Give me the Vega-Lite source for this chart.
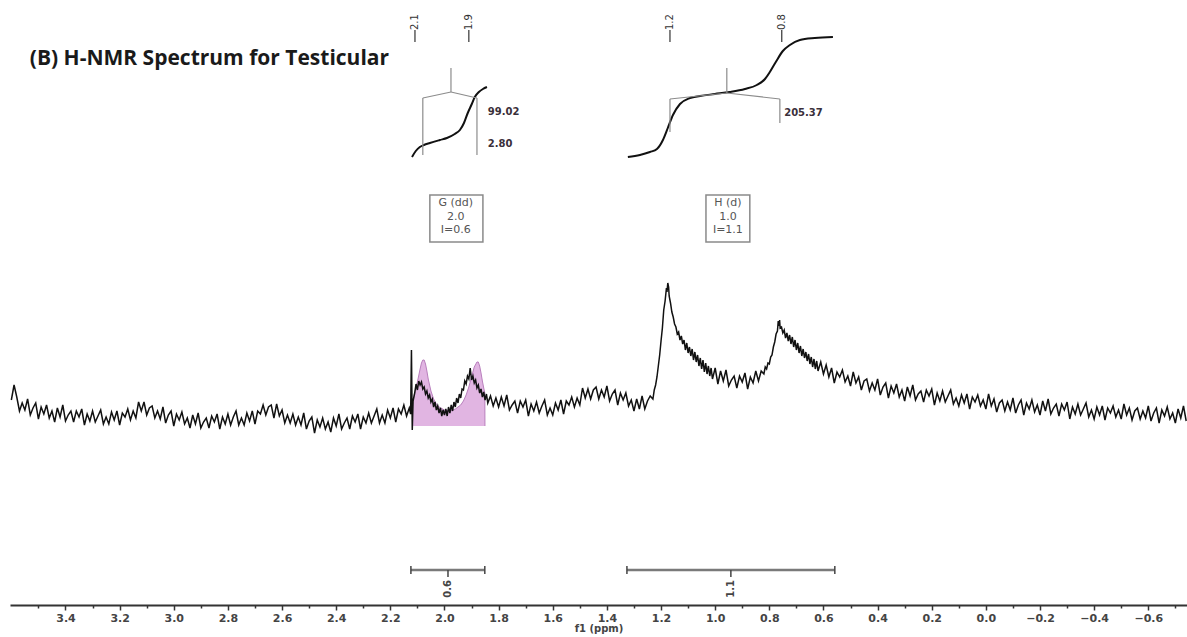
{
  "$schema": "https://vega.github.io/schema/vega-lite/v6.json",
  "width": 1177,
  "height": 605,
  "autosize": {"type": "none"},
  "padding": {"left": 10, "top": 0, "right": 0, "bottom": 32},
  "background": "white",
  "config": {"view": {"stroke": null}},
  "datasets": {
    "spec": [
      {"p":3.60,"i":2.6},{"p":3.59,"i":4.1},{"p":3.58,"i":2.9},{"p":3.57,"i":1.5},{"p":3.56,"i":2.3},{"p":3.55,"i":1.6},{"p":3.54,"i":2.7},{"p":3.53,"i":1.1},{"p":3.52,"i":1.8},{"p":3.51,"i":2.3},
      {"p":3.50,"i":0.7},{"p":3.49,"i":1.9},{"p":3.48,"i":1.2},{"p":3.47,"i":2.1},{"p":3.46,"i":0.8},{"p":3.45,"i":1.5},{"p":3.44,"i":0.4},{"p":3.43,"i":1.8},{"p":3.42,"i":0.9},{"p":3.41,"i":2.1},
      {"p":3.40,"i":0.5},{"p":3.39,"i":1.1},{"p":3.38,"i":1.5},{"p":3.37,"i":0.4},{"p":3.36,"i":1.5},{"p":3.35,"i":0.9},{"p":3.34,"i":1.7},{"p":3.33,"i":0.1},{"p":3.32,"i":1.2},{"p":3.31,"i":0.5},
      {"p":3.30,"i":1.5},{"p":3.29,"i":0.4},{"p":3.28,"i":1.0},{"p":3.27,"i":1.6},{"p":3.26,"i":0.2},{"p":3.25,"i":0.9},{"p":3.24,"i":0.2},{"p":3.23,"i":1.4},{"p":3.22,"i":0.6},{"p":3.21,"i":1.5},
      {"p":3.20,"i":0.1},{"p":3.19,"i":1.3},{"p":3.18,"i":0.9},{"p":3.17,"i":1.7},{"p":3.16,"i":0.6},{"p":3.15,"i":1.5},{"p":3.14,"i":0.8},{"p":3.13,"i":2.4},{"p":3.12,"i":1.5},{"p":3.11,"i":2.4},
      {"p":3.10,"i":1.1},{"p":3.09,"i":1.8},{"p":3.08,"i":2.0},{"p":3.07,"i":0.8},{"p":3.06,"i":1.5},{"p":3.05,"i":0.7},{"p":3.04,"i":1.9},{"p":3.03,"i":0.3},{"p":3.02,"i":1.1},{"p":3.01,"i":1.5},
      {"p":3.00,"i":0.0},{"p":2.99,"i":1.2},{"p":2.98,"i":0.6},{"p":2.97,"i":1.4},{"p":2.96,"i":0.2},{"p":2.95,"i":0.8},{"p":2.94,"i":-0.2},{"p":2.93,"i":1.1},{"p":2.92,"i":0.2},{"p":2.91,"i":1.3},
      {"p":2.90,"i":-0.2},{"p":2.89,"i":0.4},{"p":2.88,"i":0.8},{"p":2.87,"i":-0.2},{"p":2.86,"i":1.0},{"p":2.85,"i":0.4},{"p":2.84,"i":1.2},{"p":2.83,"i":-0.3},{"p":2.82,"i":0.9},{"p":2.81,"i":0.2},
      {"p":2.80,"i":1.2},{"p":2.79,"i":0.1},{"p":2.78,"i":0.9},{"p":2.77,"i":1.5},{"p":2.76,"i":0.1},{"p":2.75,"i":0.8},{"p":2.74,"i":0.1},{"p":2.73,"i":1.3},{"p":2.72,"i":0.5},{"p":2.71,"i":1.5},
      {"p":2.70,"i":0.2},{"p":2.69,"i":1.5},{"p":2.68,"i":1.2},{"p":2.67,"i":2.1},{"p":2.66,"i":1.1},{"p":2.65,"i":1.9},{"p":2.64,"i":2.1},{"p":2.63,"i":0.8},{"p":2.62,"i":2.2},{"p":2.61,"i":1.0},
      {"p":2.60,"i":1.6},{"p":2.59,"i":0.3},{"p":2.58,"i":1.1},{"p":2.57,"i":0.3},{"p":2.56,"i":1.2},{"p":2.55,"i":0.1},{"p":2.54,"i":0.9},{"p":2.53,"i":0.1},{"p":2.52,"i":1.3},{"p":2.51,"i":-0.3},
      {"p":2.50,"i":0.5},{"p":2.49,"i":0.9},{"p":2.48,"i":-0.7},{"p":2.47,"i":0.6},{"p":2.46,"i":-0.1},{"p":2.45,"i":0.8},{"p":2.44,"i":-0.3},{"p":2.43,"i":0.4},{"p":2.42,"i":-0.6},{"p":2.41,"i":0.8},
      {"p":2.40,"i":0.0},{"p":2.39,"i":1.2},{"p":2.38,"i":-0.3},{"p":2.37,"i":0.3},{"p":2.36,"i":0.8},{"p":2.35,"i":-0.3},{"p":2.34,"i":1.0},{"p":2.33,"i":0.4},{"p":2.32,"i":1.2},{"p":2.31,"i":-0.3},
      {"p":2.30,"i":0.9},{"p":2.29,"i":0.3},{"p":2.28,"i":1.3},{"p":2.27,"i":0.3},{"p":2.26,"i":1.0},{"p":2.25,"i":1.7},{"p":2.24,"i":0.3},{"p":2.23,"i":1.1},{"p":2.22,"i":0.3},{"p":2.21,"i":1.6},
      {"p":2.20,"i":0.8},{"p":2.19,"i":1.8},{"p":2.18,"i":0.4},{"p":2.17,"i":1.7},{"p":2.16,"i":1.2},{"p":2.15,"i":2.1},{"p":2.14,"i":1.0},{"p":2.13,"i":1.8},{"p":2.125,"i":1.2},{"p":2.122,"i":7.6},
      {"p":2.119,"i":-0.4},{"p":2.116,"i":2.5},{"p":2.11,"i":3.3},{"p":2.105,"i":4.2},{"p":2.10,"i":3.6},{"p":2.095,"i":4.5},{"p":2.09,"i":4.1},{"p":2.085,"i":4.4},{"p":2.08,"i":3.7},{"p":2.075,"i":3.9},
      {"p":2.07,"i":3.2},{"p":2.065,"i":3.5},{"p":2.06,"i":2.8},{"p":2.055,"i":3.1},{"p":2.05,"i":2.4},{"p":2.045,"i":2.7},{"p":2.04,"i":1.9},{"p":2.035,"i":2.4},{"p":2.03,"i":1.6},{"p":2.025,"i":2.0},
      {"p":2.02,"i":1.3},{"p":2.015,"i":1.8},{"p":2.01,"i":1.0},{"p":2.005,"i":1.6},{"p":2.00,"i":1.1},{"p":1.995,"i":1.7},{"p":1.99,"i":1.0},{"p":1.985,"i":1.9},{"p":1.98,"i":1.3},{"p":1.975,"i":2.1},
      {"p":1.97,"i":1.5},{"p":1.965,"i":2.4},{"p":1.96,"i":1.9},{"p":1.955,"i":2.8},{"p":1.95,"i":2.3},{"p":1.945,"i":3.2},{"p":1.94,"i":2.8},{"p":1.935,"i":3.7},{"p":1.93,"i":3.6},{"p":1.925,"i":4.5},
      {"p":1.92,"i":4.2},{"p":1.915,"i":5.0},{"p":1.91,"i":4.7},{"p":1.905,"i":5.8},{"p":1.90,"i":4.6},{"p":1.895,"i":5.0},{"p":1.89,"i":4.3},{"p":1.885,"i":4.6},{"p":1.88,"i":3.8},{"p":1.875,"i":4.1},
      {"p":1.87,"i":3.3},{"p":1.865,"i":3.7},{"p":1.86,"i":2.9},{"p":1.855,"i":3.4},{"p":1.85,"i":2.6},{"p":1.845,"i":3.2},{"p":1.84,"i":2.3},{"p":1.83,"i":3.0},{"p":1.82,"i":2.0},{"p":1.81,"i":2.8},
      {"p":1.80,"i":1.9},{"p":1.79,"i":2.9},{"p":1.78,"i":2.0},{"p":1.77,"i":3.1},{"p":1.76,"i":1.6},{"p":1.75,"i":2.1},{"p":1.74,"i":2.5},{"p":1.73,"i":1.3},{"p":1.72,"i":2.5},{"p":1.71,"i":1.9},
      {"p":1.70,"i":2.6},{"p":1.69,"i":1.0},{"p":1.68,"i":2.2},{"p":1.67,"i":1.5},{"p":1.66,"i":2.4},{"p":1.65,"i":1.3},{"p":1.64,"i":2.0},{"p":1.63,"i":2.6},{"p":1.62,"i":1.1},{"p":1.61,"i":1.8},
      {"p":1.60,"i":1.1},{"p":1.59,"i":2.3},{"p":1.58,"i":1.6},{"p":1.57,"i":2.6},{"p":1.56,"i":1.2},{"p":1.55,"i":2.5},{"p":1.54,"i":2.1},{"p":1.53,"i":2.9},{"p":1.52,"i":1.9},{"p":1.51,"i":2.8},
      {"p":1.50,"i":2.1},{"p":1.49,"i":3.8},{"p":1.48,"i":2.8},{"p":1.47,"i":3.7},{"p":1.46,"i":2.7},{"p":1.45,"i":3.6},{"p":1.44,"i":3.9},{"p":1.43,"i":2.7},{"p":1.42,"i":3.6},{"p":1.41,"i":2.9},
      {"p":1.40,"i":4.0},{"p":1.39,"i":2.5},{"p":1.38,"i":3.2},{"p":1.37,"i":3.6},{"p":1.36,"i":2.1},{"p":1.35,"i":3.3},{"p":1.34,"i":2.6},{"p":1.33,"i":3.3},{"p":1.32,"i":2.0},{"p":1.31,"i":2.6},
      {"p":1.30,"i":1.5},{"p":1.29,"i":2.7},{"p":1.28,"i":1.7},{"p":1.27,"i":3.0},{"p":1.26,"i":1.7},{"p":1.25,"i":2.5},{"p":1.24,"i":3.0},{"p":1.23,"i":2.7},{"p":1.225,"i":3.6},{"p":1.22,"i":4.1},
      {"p":1.215,"i":4.9},{"p":1.21,"i":6.0},{"p":1.205,"i":7.1},{"p":1.20,"i":8.5},{"p":1.195,"i":9.8},{"p":1.19,"i":11.6},{"p":1.185,"i":12.5},{"p":1.18,"i":13.8},{"p":1.178,"i":13.4},{"p":1.175,"i":14.3},
      {"p":1.172,"i":13.9},{"p":1.17,"i":13.0},{"p":1.165,"i":12.3},{"p":1.16,"i":11.4},{"p":1.155,"i":10.9},{"p":1.15,"i":10.2},{"p":1.145,"i":9.9},{"p":1.14,"i":9.2},{"p":1.135,"i":9.4},{"p":1.13,"i":8.6},
      {"p":1.125,"i":9.0},{"p":1.12,"i":8.2},{"p":1.115,"i":8.6},{"p":1.11,"i":7.6},{"p":1.105,"i":8.3},{"p":1.10,"i":7.3},{"p":1.095,"i":7.9},{"p":1.09,"i":7.0},{"p":1.085,"i":7.7},{"p":1.08,"i":6.6},
      {"p":1.075,"i":7.4},{"p":1.07,"i":6.4},{"p":1.065,"i":7.1},{"p":1.06,"i":6.0},{"p":1.055,"i":6.8},{"p":1.05,"i":5.7},{"p":1.045,"i":6.6},{"p":1.04,"i":5.4},{"p":1.035,"i":6.3},{"p":1.03,"i":5.2},
      {"p":1.025,"i":6.0},{"p":1.02,"i":5.0},{"p":1.015,"i":5.8},{"p":1.01,"i":4.7},{"p":1.00,"i":5.8},{"p":0.99,"i":4.2},{"p":0.98,"i":5.5},{"p":0.97,"i":4.5},{"p":0.96,"i":5.6},{"p":0.95,"i":4.0},
      {"p":0.94,"i":4.6},{"p":0.93,"i":5.0},{"p":0.92,"i":3.8},{"p":0.91,"i":5.0},{"p":0.90,"i":4.4},{"p":0.89,"i":5.3},{"p":0.88,"i":3.7},{"p":0.87,"i":4.9},{"p":0.86,"i":4.3},{"p":0.85,"i":5.5},
      {"p":0.84,"i":4.5},{"p":0.83,"i":5.5},{"p":0.82,"i":5.2},{"p":0.815,"i":5.9},{"p":0.81,"i":5.7},{"p":0.805,"i":6.3},{"p":0.80,"i":6.2},{"p":0.795,"i":6.9},{"p":0.79,"i":7.1},{"p":0.785,"i":7.9},
      {"p":0.78,"i":8.4},{"p":0.775,"i":9.2},{"p":0.77,"i":9.5},{"p":0.767,"i":10.5},{"p":0.765,"i":10.0},{"p":0.762,"i":10.6},{"p":0.76,"i":9.8},{"p":0.755,"i":9.9},{"p":0.75,"i":9.3},{"p":0.745,"i":9.6},
      {"p":0.74,"i":8.8},{"p":0.735,"i":9.3},{"p":0.73,"i":8.5},{"p":0.725,"i":9.1},{"p":0.72,"i":8.2},{"p":0.715,"i":8.9},{"p":0.71,"i":7.9},{"p":0.705,"i":8.6},{"p":0.70,"i":7.6},{"p":0.695,"i":8.3},
      {"p":0.69,"i":7.3},{"p":0.685,"i":8.0},{"p":0.68,"i":7.0},{"p":0.675,"i":7.7},{"p":0.67,"i":6.8},{"p":0.665,"i":7.4},{"p":0.66,"i":6.5},{"p":0.655,"i":7.2},{"p":0.65,"i":6.2},{"p":0.645,"i":6.9},
      {"p":0.64,"i":5.9},{"p":0.635,"i":6.7},{"p":0.63,"i":5.7},{"p":0.625,"i":6.5},{"p":0.62,"i":5.5},{"p":0.61,"i":6.4},{"p":0.60,"i":5.2},{"p":0.59,"i":6.1},{"p":0.58,"i":4.9},{"p":0.57,"i":5.8},
      {"p":0.56,"i":4.3},{"p":0.55,"i":5.4},{"p":0.54,"i":4.9},{"p":0.53,"i":5.6},{"p":0.52,"i":4.4},{"p":0.51,"i":5.0},{"p":0.50,"i":4.0},{"p":0.49,"i":5.4},{"p":0.48,"i":4.3},{"p":0.47,"i":4.9},
      {"p":0.46,"i":3.6},{"p":0.45,"i":4.5},{"p":0.44,"i":4.7},{"p":0.43,"i":3.5},{"p":0.42,"i":4.3},{"p":0.41,"i":3.6},{"p":0.40,"i":4.7},{"p":0.39,"i":3.1},{"p":0.38,"i":3.9},{"p":0.37,"i":4.3},
      {"p":0.36,"i":2.8},{"p":0.35,"i":4.0},{"p":0.34,"i":3.3},{"p":0.33,"i":4.2},{"p":0.32,"i":2.9},{"p":0.31,"i":3.6},{"p":0.30,"i":2.5},{"p":0.29,"i":3.9},{"p":0.28,"i":3.0},{"p":0.27,"i":4.1},
      {"p":0.26,"i":2.6},{"p":0.25,"i":3.2},{"p":0.24,"i":3.5},{"p":0.23,"i":2.4},{"p":0.22,"i":3.6},{"p":0.21,"i":3.0},{"p":0.20,"i":3.7},{"p":0.19,"i":2.1},{"p":0.18,"i":3.3},{"p":0.17,"i":2.5},
      {"p":0.16,"i":3.5},{"p":0.15,"i":2.4},{"p":0.14,"i":3.0},{"p":0.13,"i":3.6},{"p":0.12,"i":2.2},{"p":0.11,"i":2.8},{"p":0.10,"i":2.0},{"p":0.09,"i":3.1},{"p":0.08,"i":2.3},{"p":0.07,"i":3.2},
      {"p":0.06,"i":1.7},{"p":0.05,"i":2.9},{"p":0.04,"i":2.4},{"p":0.03,"i":3.1},{"p":0.02,"i":2.0},{"p":0.01,"i":2.6},{"p":0.00,"i":1.7},{"p":-0.01,"i":3.2},{"p":-0.02,"i":2.0},{"p":-0.03,"i":2.7},
      {"p":-0.04,"i":1.4},{"p":-0.05,"i":2.3},{"p":-0.06,"i":2.6},{"p":-0.07,"i":1.5},{"p":-0.08,"i":2.4},{"p":-0.09,"i":1.6},{"p":-0.10,"i":2.8},{"p":-0.11,"i":1.3},{"p":-0.12,"i":2.1},{"p":-0.13,"i":2.6},
      {"p":-0.14,"i":1.1},{"p":-0.15,"i":2.3},{"p":-0.16,"i":1.7},{"p":-0.17,"i":2.6},{"p":-0.18,"i":1.4},{"p":-0.19,"i":2.1},{"p":-0.20,"i":1.1},{"p":-0.21,"i":2.5},{"p":-0.22,"i":1.5},{"p":-0.23,"i":2.7},
      {"p":-0.24,"i":1.2},{"p":-0.25,"i":1.8},{"p":-0.26,"i":2.2},{"p":-0.27,"i":1.0},{"p":-0.28,"i":2.2},{"p":-0.29,"i":1.6},{"p":-0.30,"i":2.4},{"p":-0.31,"i":0.7},{"p":-0.32,"i":1.9},{"p":-0.33,"i":1.2},
      {"p":-0.34,"i":2.2},{"p":-0.35,"i":1.1},{"p":-0.36,"i":1.7},{"p":-0.37,"i":2.3},{"p":-0.38,"i":0.9},{"p":-0.39,"i":1.6},{"p":-0.40,"i":0.7},{"p":-0.41,"i":1.9},{"p":-0.42,"i":1.1},{"p":-0.43,"i":2.0},
      {"p":-0.44,"i":0.6},{"p":-0.45,"i":1.8},{"p":-0.46,"i":1.3},{"p":-0.47,"i":2.0},{"p":-0.48,"i":0.9},{"p":-0.49,"i":1.6},{"p":-0.50,"i":0.7},{"p":-0.51,"i":2.2},{"p":-0.52,"i":1.1},{"p":-0.53,"i":1.8},
      {"p":-0.54,"i":0.6},{"p":-0.55,"i":1.5},{"p":-0.56,"i":1.8},{"p":-0.57,"i":0.7},{"p":-0.58,"i":1.5},{"p":-0.59,"i":0.8},{"p":-0.60,"i":2.0},{"p":-0.61,"i":0.5},{"p":-0.62,"i":1.3},{"p":-0.63,"i":1.8},
      {"p":-0.64,"i":0.3},{"p":-0.65,"i":1.6},{"p":-0.66,"i":1.0},{"p":-0.67,"i":1.9},{"p":-0.68,"i":0.7},{"p":-0.69,"i":1.3},{"p":-0.70,"i":0.3},{"p":-0.71,"i":1.7},{"p":-0.72,"i":0.8},{"p":-0.73,"i":2.0},
      {"p":-0.74,"i":0.5}
    ],
    "pink": [
      {"p":2.117,"i":2.5},{"p":2.11,"i":3.3},{"p":2.10,"i":4.4},{"p":2.09,"i":5.7},{"p":2.085,"i":6.3},{"p":2.08,"i":6.6},{"p":2.075,"i":6.6},{"p":2.07,"i":6.2},{"p":2.065,"i":5.5},{"p":2.06,"i":4.7},
      {"p":2.05,"i":3.5},{"p":2.04,"i":2.7},{"p":2.03,"i":2.2},{"p":2.02,"i":1.9},{"p":2.00,"i":1.6},{"p":1.98,"i":1.5},{"p":1.96,"i":1.7},{"p":1.94,"i":2.1},{"p":1.93,"i":2.5},{"p":1.92,"i":3.1},
      {"p":1.91,"i":3.9},{"p":1.90,"i":4.9},{"p":1.89,"i":5.9},{"p":1.88,"i":6.4},{"p":1.875,"i":6.4},{"p":1.87,"i":6.0},{"p":1.865,"i":5.3},{"p":1.86,"i":4.5},{"p":1.855,"i":3.8},{"p":1.851,"i":3.3},
      {"p":1.8505,"i":0.0}
    ],
    "integ": [
      {"g":"G","p":2.120,"i":26.9},{"g":"G","p":2.106,"i":27.5},{"g":"G","p":2.091,"i":27.9},{"g":"G","p":2.076,"i":28.1},{"g":"G","p":2.054,"i":28.3},{"g":"G","p":2.017,"i":28.6},{"g":"G","p":1.991,"i":28.8},{"g":"G","p":1.962,"i":29.2},{"g":"G","p":1.943,"i":29.6},{"g":"G","p":1.928,"i":30.3},{"g":"G","p":1.914,"i":31.3},{"g":"G","p":1.899,"i":32.2},{"g":"G","p":1.888,"i":32.9},{"g":"G","p":1.873,"i":33.4},{"g":"G","p":1.858,"i":33.7},{"g":"G","p":1.843,"i":33.9},
      {"g":"H","p":1.3225,"i":26.9},{"g":"H","p":1.278,"i":27.1},{"g":"H","p":1.241,"i":27.4},{"g":"H","p":1.215,"i":27.7},{"g":"H","p":1.193,"i":28.6},{"g":"H","p":1.175,"i":29.8},{"g":"H","p":1.156,"i":31.1},{"g":"H","p":1.130,"i":32.2},{"g":"H","p":1.093,"i":32.8},{"g":"H","p":1.056,"i":33.0},{"g":"H","p":1.001,"i":33.2},{"g":"H","p":0.946,"i":33.4},{"g":"H","p":0.890,"i":33.7},{"g":"H","p":0.846,"i":34.1},{"g":"H","p":0.816,"i":34.7},{"g":"H","p":0.798,"i":35.4},{"g":"H","p":0.776,"i":36.4},{"g":"H","p":0.750,"i":37.5},{"g":"H","p":0.724,"i":38.1},{"g":"H","p":0.687,"i":38.6},{"g":"H","p":0.632,"i":38.8},{"g":"H","p":0.565,"i":38.9}
    ],
    "tree": [
      {"p":1.976,"i":35.8,"p2":1.976,"i2":33.4},
      {"p":1.976,"i":33.4,"p2":2.080,"i2":32.8},
      {"p":1.976,"i":33.4,"p2":1.880,"i2":32.8},
      {"p":2.080,"i":32.8,"p2":2.080,"i2":27.1},
      {"p":1.880,"i":32.8,"p2":1.880,"i2":27.1},
      {"p":0.957,"i":35.8,"p2":0.957,"i2":33.3},
      {"p":0.957,"i":33.3,"p2":1.167,"i2":32.7},
      {"p":0.957,"i":33.3,"p2":0.761,"i2":32.7},
      {"p":1.167,"i":32.7,"p2":1.167,"i2":29.4},
      {"p":0.761,"i":32.7,"p2":0.761,"i2":30.3}
    ],
    "peaks": [
      {"p":2.109,"i":39.6,"i2":38.4,"t":"2.1"},
      {"p":1.910,"i":39.6,"i2":38.4,"t":"1.9"},
      {"p":1.167,"i":39.6,"i2":38.4,"t":"1.2"},
      {"p":0.754,"i":39.6,"i2":38.4,"t":"0.8"}
    ],
    "intlabels": [
      {"p":1.840,"i":31.4,"t":"99.02"},
      {"p":1.840,"i":28.2,"t":"2.80"},
      {"p":0.745,"i":31.3,"t":"205.37"}
    ],
    "boxes": [
      {"p":2.054,"p2":1.858,"i":23.1,"i2":18.4},
      {"p":1.034,"p2":0.872,"i":23.1,"i2":18.4}
    ],
    "boxtext": [
      {"p":1.958,"i":22.3,"t":"G (dd)"},
      {"p":1.958,"i":20.9,"t":"2.0"},
      {"p":1.958,"i":19.6,"t":"I=0.6"},
      {"p":0.953,"i":22.3,"t":"H (d)"},
      {"p":0.953,"i":20.9,"t":"1.0"},
      {"p":0.953,"i":19.6,"t":"I=1.1"}
    ],
    "bars": [
      {"p":2.124,"p2":1.851,"i":-14.4},
      {"p":1.326,"p2":0.558,"i":-14.4}
    ],
    "barticks": [
      {"p":2.124,"i":-14.0,"i2":-14.8},
      {"p":1.851,"i":-14.0,"i2":-14.8},
      {"p":1.987,"i":-14.4,"i2":-15.1},
      {"p":1.326,"i":-14.0,"i2":-14.8},
      {"p":0.558,"i":-14.0,"i2":-14.8},
      {"p":0.942,"i":-14.4,"i2":-15.1}
    ],
    "bartext": [
      {"p":1.987,"i":-15.4,"t":"0.6"},
      {"p":0.942,"i":-15.4,"t":"1.1"}
    ],
    "title": [
      {"p":3.532,"i":36.1,"t":"(B) H-NMR Spectrum for Testicular"}
    ]
  },
  "encoding": {
    "x": {
      "field": "p",
      "type": "quantitative",
      "scale": {"domain": [-0.743, 3.605], "reverse": true, "nice": false, "zero": false},
      "axis": {
        "title": "f1 (ppm)",
        "grid": false,
        "values": [-0.7,-0.6,-0.5,-0.4,-0.3,-0.2,-0.1,0,0.1,0.2,0.3,0.4,0.5,0.6,0.7,0.8,0.9,1.0,1.1,1.2,1.3,1.4,1.5,1.6,1.7,1.8,1.9,2.0,2.1,2.2,2.3,2.4,2.5,2.6,2.7,2.8,2.9,3.0,3.1,3.2,3.3,3.4,3.5],
        "labelExpr": "round(datum.value*10) % 2 == 0 ? format(datum.value, '.1f') : ''",
        "tickSize": {"condition": {"test": "round(datum.value*10) % 2 == 0", "value": 5}, "value": 3},
        "tickColor": "#333333",
        "tickWidth": 1.5,
        "domainColor": "#333333",
        "domainWidth": 2,
        "labelFont": "DejaVu Sans",
        "labelFontWeight": "bold",
        "labelFontSize": 11,
        "labelColor": "#444444",
        "labelPadding": 2,
        "labelOverlap": false,
        "labelFlush": false,
        "titleFont": "DejaVu Sans",
        "titleFontWeight": "bold",
        "titleFontSize": 10,
        "titleColor": "#444444",
        "titlePadding": 0
      }
    },
    "y": {
      "field": "i",
      "type": "quantitative",
      "scale": {"domain": [-17.9, 42.6], "nice": false, "zero": false},
      "axis": null
    }
  },
  "layer": [
    {
      "data": {"name": "pink"},
      "mark": {"type": "area", "color": "#d496d6", "line": {"color": "#b97fbd", "strokeWidth": 1}},
      "encoding": {"y2": {"datum": 0}}
    },
    {
      "data": {"name": "spec"},
      "mark": {"type": "line", "color": "#111111", "strokeWidth": 1.5},
      "encoding": {}
    },
    {
      "data": {"name": "integ"},
      "mark": {"type": "line", "color": "#111111", "strokeWidth": 2, "interpolate": "monotone"},
      "encoding": {"detail": {"field": "g"}}
    },
    {
      "data": {"name": "tree"},
      "mark": {"type": "rule", "color": "#8c8c8c", "strokeWidth": 1.2},
      "encoding": {"x2": {"field": "p2"}, "y2": {"field": "i2"}}
    },
    {
      "data": {"name": "peaks"},
      "mark": {"type": "rule", "color": "#333333", "strokeWidth": 1.2},
      "encoding": {"y2": {"field": "i2"}}
    },
    {
      "data": {"name": "peaks"},
      "mark": {"type": "text", "angle": 270, "align": "left", "baseline": "middle", "font": "DejaVu Sans", "fontSize": 10, "color": "#333333"},
      "encoding": {"text": {"field": "t"}}
    },
    {
      "data": {"name": "intlabels"},
      "mark": {"type": "text", "align": "left", "baseline": "middle", "font": "DejaVu Sans", "fontWeight": "bold", "fontSize": 10, "color": "#3a2f3a"},
      "encoding": {"text": {"field": "t"}}
    },
    {
      "data": {"name": "boxes"},
      "mark": {"type": "rect", "fill": "white", "stroke": "#8a8a8a", "strokeWidth": 1.5},
      "encoding": {"x2": {"field": "p2"}, "y2": {"field": "i2"}}
    },
    {
      "data": {"name": "boxtext"},
      "mark": {"type": "text", "align": "center", "baseline": "middle", "font": "DejaVu Sans", "fontSize": 11, "color": "#555555"},
      "encoding": {"text": {"field": "t"}}
    },
    {
      "data": {"name": "bars"},
      "mark": {"type": "rule", "color": "#7a7a7a", "strokeWidth": 2.5},
      "encoding": {"x2": {"field": "p2"}}
    },
    {
      "data": {"name": "barticks"},
      "mark": {"type": "rule", "color": "#444444", "strokeWidth": 1.5},
      "encoding": {"y2": {"field": "i2"}}
    },
    {
      "data": {"name": "bartext"},
      "mark": {"type": "text", "angle": 270, "align": "right", "baseline": "middle", "font": "DejaVu Sans", "fontWeight": "bold", "fontSize": 10, "color": "#444444"},
      "encoding": {"text": {"field": "t"}}
    },
    {
      "data": {"name": "title"},
      "mark": {"type": "text", "align": "left", "baseline": "alphabetic", "font": "Open Sans", "fontWeight": "bold", "fontSize": 21, "color": "#1a1a1a"},
      "encoding": {"text": {"field": "t"}}
    }
  ]
}
